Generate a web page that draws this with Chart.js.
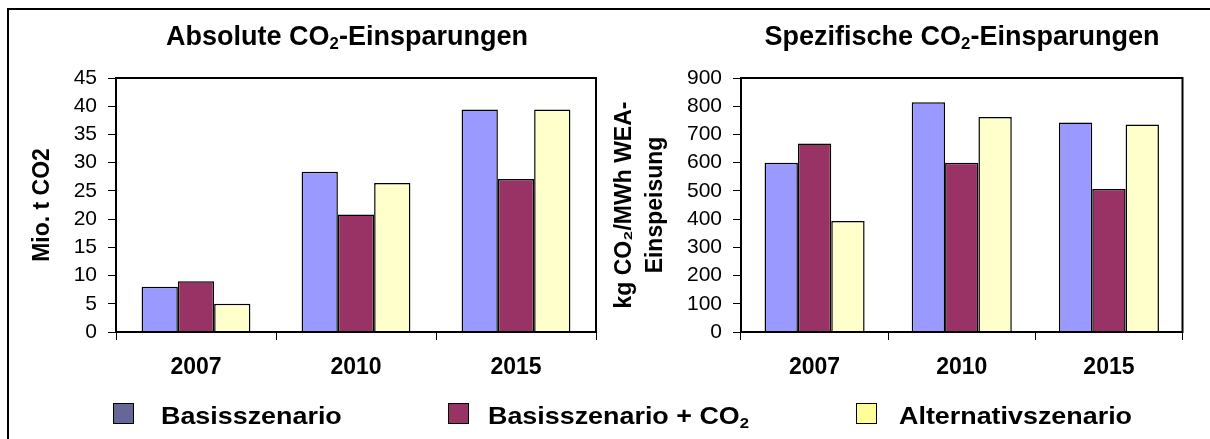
<!DOCTYPE html>
<html>
<head>
    <title>CO2-Einsparungen</title>
    <style>
        body {margin: 0; background: #fff; overflow: hidden; font-family: "Liberation Sans", Arial, sans-serif;}
        #frame {position: absolute; left: 7px; top: 8px; width: 1400px; height: 600px; border: 2px solid #000;}
        canvas {position: absolute; top: 0;}
        .charttitle {position: absolute; top: 20px; font-weight: bold; font-size: 27px; line-height: 32px; text-align: center; white-space: nowrap;}
        .charttitle sub, .legtext sub {font-size: 62%; vertical-align: -0.25em; line-height: 0;}
        .legbox {position: absolute; top: 403px; width: 19px; height: 19px; border: 1.5px solid #000;}
        .legtext {position: absolute; top: 401px; font-weight: bold; font-size: 24px; line-height: 30px; white-space: nowrap;
                  transform: scaleX(1.12); transform-origin: left center;}
    </style>
    <script src="https://cdn.jsdelivr.net/npm/chart.js"></script>
</head>
<body>
    <div id="frame"></div>
    <canvas id="chartAbs" width="605" height="439" style="left:0px"></canvas>
    <canvas id="chartSpez" width="605" height="439" style="left:605px"></canvas>

    <div class="charttitle" style="left:147px; width:400px">Absolute CO<sub>2</sub>-Einsparungen</div>
    <div class="charttitle" style="left:762px; width:400px">Spezifische CO<sub>2</sub>-Einsparungen</div>

    <div class="legbox" style="left:113px; background:#666699"></div>
    <div class="legtext" style="left:161px">Basisszenario</div>
    <div class="legbox" style="left:448px; background:#993366"></div>
    <div class="legtext" style="left:488px">Basisszenario + CO<sub>2</sub></div>
    <div class="legbox" style="left:856px; background:#FFFF99"></div>
    <div class="legtext" style="left:899px">Alternativszenario</div>

<script>
    var years = ['2007', '2010', '2015'];
    var seriesNames = ['Basisszenario', 'Basisszenario + CO2', 'Alternativszenario'];
    var barColors = ['#9999FF', '#993366', '#FFFFCC'];

    // Mio. t CO2
    var absBasis = [8, 28.4, 39.4];
    var absBasisCO2 = [9, 20.8, 27.1];
    var absAlt = [5, 26.4, 39.4];

    // kg CO2 / MWh WEA-Einspeisung
    var spezBasis = [600, 814, 742];
    var spezBasisCO2 = [668, 600, 507];
    var spezAlt = [393, 762, 735];

    var fontFam = '"Liberation Sans", Arial, sans-serif';

    // box around the plot area (top + right edges)
    var plotBox = {
        id: 'plotBox',
        afterDraw: function(chart) {
            var a = chart.chartArea, ctx = chart.ctx;
            ctx.save();
            ctx.strokeStyle = '#000';
            ctx.lineWidth = 2;
            ctx.strokeRect(a.left, a.top, a.right - a.left, a.bottom - a.top);
            ctx.restore();
        }
    };

    function makeChart(id, values, yMax, yStep, yTitle, yWidth, padRight, titlePad) {
        var datasets = values.map(function(v, i) {
            return {
                label: seriesNames[i],
                data: v,
                backgroundColor: barColors[i],
                borderColor: '#000',
                borderWidth: 1.5,
                categoryPercentage: 0.68,
                barPercentage: 1.0
            };
        });
        return new Chart(document.getElementById(id), {
            type: 'bar',
            data: {labels: years, datasets: datasets},
            plugins: [plotBox],
            options: {
                responsive: false,
                animation: false,
                layout: {padding: {top: 78, left: 0, right: padRight, bottom: 0}},
                plugins: {legend: {display: false}, tooltip: {enabled: false}},
                scales: {
                    x: {
                        afterFit: function(s) { s.height = 107; },
                        grid: {drawOnChartArea: false, drawTicks: true, tickLength: 8, color: '#000', lineWidth: 1},
                        border: {display: true, color: '#000', width: 2},
                        ticks: {color: '#000', padding: 14, font: {family: fontFam, size: 23, weight: 'bold'}}
                    },
                    y: {
                        min: 0,
                        max: yMax,
                        afterFit: function(s) { s.width = yWidth; },
                        grid: {drawOnChartArea: false, drawTicks: true, tickLength: 8, color: '#000', lineWidth: 1},
                        border: {display: true, color: '#000', width: 2},
                        ticks: {stepSize: yStep, color: '#000', padding: 11, font: {family: fontFam, size: 21}},
                        title: {
                            display: true,
                            text: yTitle,
                            color: '#000',
                            padding: {top: titlePad, bottom: 0},
                            font: {family: fontFam, size: 23, weight: 'bold', lineHeight: 1.35}
                        }
                    }
                }
            }
        });
    }

    makeChart('chartAbs', [absBasis, absBasisCO2, absAlt], 45, 5, 'Mio. t CO2', 116, 9, 27);
    makeChart('chartSpez', [spezBasis, spezBasisCO2, spezAlt], 900, 100,
        ['kg CO\u2082/MWh WEA-', 'Einspeisung'], 136, 27.5, 4);
</script>
</body>
</html>
